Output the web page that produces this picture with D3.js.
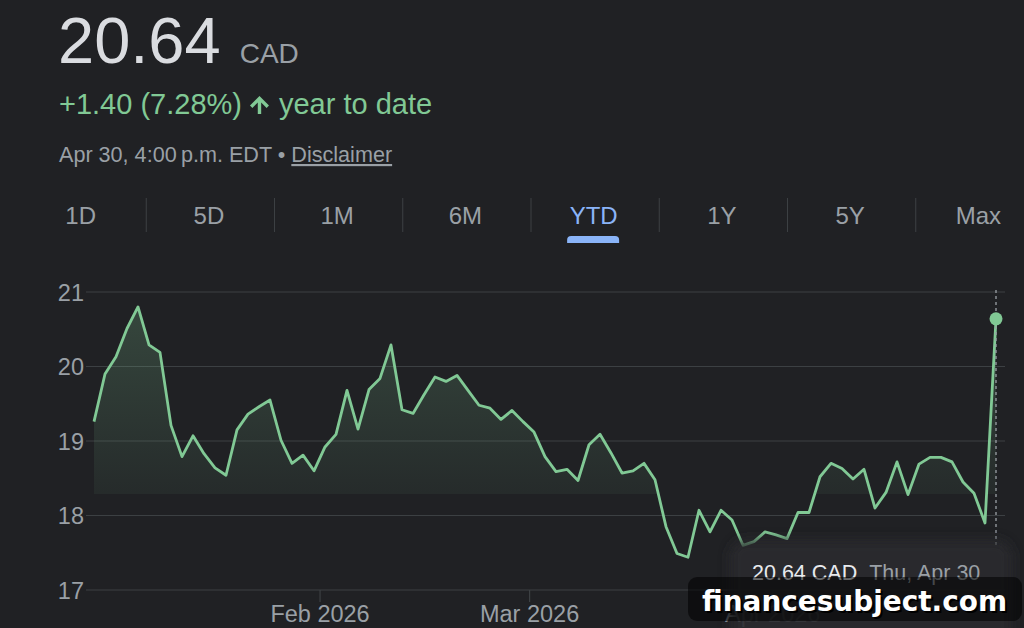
<!DOCTYPE html>
<html><head><meta charset="utf-8">
<script src="https://cdn.jsdelivr.net/npm/d3@7"></script>
<style>html,body{margin:0;padding:0;background:#202124;overflow:hidden}svg{display:block}</style>
</head><body><svg id="c" width="1024" height="628"></svg>
<script>
// ---- data ----
const prices = [19.26,19.90,20.13,20.51,20.80,20.29,20.19,19.21,18.79,19.07,18.83,18.64,18.54,19.15,19.36,19.46,19.55,19.01,18.70,18.81,18.60,18.92,19.09,19.68,19.16,19.69,19.84,20.29,19.42,19.37,19.62,19.86,19.80,19.88,19.68,19.48,19.44,19.29,19.41,19.26,19.12,18.79,18.59,18.62,18.47,18.95,19.09,18.84,18.57,18.60,18.70,18.48,17.85,17.49,17.44,18.07,17.78,18.07,17.94,17.60,17.65,17.78,17.74,17.69,18.04,18.04,18.52,18.70,18.63,18.49,18.62,18.10,18.31,18.72,18.28,18.69,18.78,18.78,18.72,18.45,18.30,17.90,20.64];
const tabs = ["1D","5D","1M","6M","YTD","1Y","5Y","Max"];
const activeTab = "YTD";
const yTicks = [17,18,19,20,21];
const xTickIndex = [20.55,39.6,61.7];
const xTickLabels = ["Feb 2026","Mar 2026","Apr 2026"];
const headerPrice = "20.64";
const currency = "CAD";
const changeText = "+1.40 (7.28%)";
const changeLabel = "year to date";
const asOfText = "Apr 30, 4:00\u202Fp.m. EDT \u2022 ";
const disclaimerText = "Disclaimer";
const tipValue = "20.64 CAD";
const tipDate = "Thu, Apr 30";
const watermark = "financesubject.com";

// ---- setup ----
const FONT = "'Liberation Sans', Arial, Helvetica, sans-serif";
const GREEN = "#81c995", GREY = "#9aa0a6", GRID = "#3c4043";
const svg = d3.select("#c");
svg.append("rect").attr("width",1024).attr("height",628).attr("fill","#202124");

const defs = svg.append("defs");
const grad = defs.append("linearGradient").attr("id","fillg")
  .attr("gradientUnits","userSpaceOnUse").attr("x1",0).attr("x2",0).attr("y1",300).attr("y2",494);
grad.append("stop").attr("offset",0).attr("stop-color",GREEN).attr("stop-opacity",0.23);
grad.append("stop").attr("offset",0.999).attr("stop-color",GREEN).attr("stop-opacity",0.06);
grad.append("stop").attr("offset",1).attr("stop-color",GREEN).attr("stop-opacity",0);
const blur = defs.append("filter").attr("id","blur").attr("x","-20%").attr("y","-20%").attr("width","140%").attr("height","140%");
blur.append("feGaussianBlur").attr("stdDeviation",6);

// ---- header ----
const hdr = svg.append("g").attr("font-family",FONT);
const priceT = hdr.append("text").attr("x",58).attr("y",63).attr("font-size",65).attr("fill","#dadce0").text(headerPrice);
const pw = priceT.node().getComputedTextLength();
hdr.append("text").attr("x",58+pw+19).attr("y",63).attr("font-size",28).attr("fill",GREY).text(currency);

const chT = hdr.append("text").attr("x",59).attr("y",114).attr("font-size",29).attr("fill",GREEN).text(changeText);
const cw = chT.node().getComputedTextLength();
const ax = 59 + cw + 8;
hdr.append("path").attr("fill",GREEN)
  .attr("d",`M${ax+9.5},${96} L${ax+19},${105.5} L${ax+16.6},${107.9} L${ax+11.2},${102.5} L${ax+11.2},${114} L${ax+7.8},${114} L${ax+7.8},${102.5} L${ax+2.4},${107.9} L${ax},${105.5} Z`);
hdr.append("text").attr("x",ax+29).attr("y",114).attr("font-size",29).attr("fill",GREEN).text(changeLabel);

const asT = hdr.append("text").attr("x",59).attr("y",162).attr("font-size",21.6).attr("fill",GREY);
asT.append("tspan").text(asOfText);
asT.append("tspan").attr("text-decoration","underline").text(disclaimerText);

// ---- tabs ----
const tabX = d3.scaleBand().domain(tabs).range([18,1044]);
const tg = svg.append("g").attr("font-family",FONT);
tg.selectAll("line.sep").data(tabs.slice(1)).join("line")
  .attr("x1",d=>tabX(d)).attr("x2",d=>tabX(d)).attr("y1",198).attr("y2",232)
  .attr("stroke",GRID).attr("stroke-width",1);
tg.selectAll("text.tab").data(tabs).join("text")
  .attr("x",d=>tabX(d)+tabX.bandwidth()/2 - 1.5).attr("y",224)
  .attr("text-anchor","middle").attr("font-size",24)
  .attr("fill",d=>d===activeTab?"#8ab4f8":GREY).text(d=>d);
const acx = tabX(activeTab)+tabX.bandwidth()/2 - 2;
tg.append("path").attr("fill","#8ab4f8")
  .attr("d",`M${acx-26},243 L${acx-26},240 Q${acx-26},236 ${acx-22},236 L${acx+22},236 Q${acx+26},236 ${acx+26},240 L${acx+26},243 Z`);

// ---- chart ----
const x = d3.scaleLinear().domain([0, prices.length-1]).range([94, 996]);
const y = d3.scaleLinear().domain([17,21]).range([590,292]);

const grid = svg.append("g");
grid.selectAll("line").data(yTicks).join("line")
  .attr("x1",86).attr("x2",1005).attr("y1",d=>y(d)).attr("y2",d=>y(d))
  .attr("stroke",GRID).attr("stroke-width",1.2);
svg.append("g").selectAll("text").data(yTicks).join("text")
  .attr("x",84).attr("y",d=>y(d)+8.5).attr("text-anchor","end")
  .attr("font-family",FONT).attr("font-size",23.5).attr("fill",GREY).text(d=>d);

const xt = svg.append("g");
xt.selectAll("line").data(xTickIndex).join("line")
  .attr("x1",d=>x(d)).attr("x2",d=>x(d)).attr("y1",y(17)).attr("y2",y(17)+12)
  .attr("stroke",GRID).attr("stroke-width",1.2);
xt.selectAll("text").data(xTickIndex).join("text")
  .attr("x",d=>x(d)).attr("y",622).attr("text-anchor","middle")
  .attr("font-family",FONT).attr("font-size",23.5).attr("fill",GREY)
  .text((d,i)=>xTickLabels[i]);

const area = d3.area().x((d,i)=>x(i)).y0(y(17)).y1(d=>y(d));
svg.append("path").datum(prices).attr("d",area).attr("fill","url(#fillg)");
const line = d3.line().x((d,i)=>x(i)).y(d=>y(d));
svg.append("path").datum(prices).attr("d",line).attr("fill","none")
  .attr("stroke",GREEN).attr("stroke-width",2.8).attr("stroke-linejoin","round");

const last = prices.length-1;
svg.append("line").attr("x1",x(last)).attr("x2",x(last)).attr("y1",290).attr("y2",548)
  .attr("stroke",GREY).attr("stroke-width",1.3).attr("stroke-dasharray","3,3");
svg.append("circle").attr("cx",x(last)).attr("cy",y(prices[last])).attr("r",6.5).attr("fill",GREEN);

// ---- tooltip ----
svg.append("rect").attr("x",730).attr("y",540).attr("width",282).attr("height",110).attr("rx",16)
  .attr("fill","#2a2b2f").attr("opacity",0.9).attr("filter","url(#blur)");
const tip = svg.append("text").attr("x",752).attr("y",580).attr("font-family",FONT).attr("font-size",21.5);
tip.append("tspan").attr("fill","#e8eaed").text(tipValue);
tip.append("tspan").attr("dx",12).attr("fill",GREY).text(tipDate);

// ---- watermark ----
svg.append("rect").attr("x",688).attr("y",577).attr("width",334).attr("height",44).attr("rx",9)
  .attr("fill","#000").attr("opacity",0.55);
svg.append("text").attr("x",704).attr("y",613).attr("font-family","'DejaVu Sans', sans-serif")
  .attr("font-weight","bold").attr("font-size",29).attr("textLength",305).attr("lengthAdjust","spacingAndGlyphs")
  .attr("fill","#000").text(watermark);
svg.append("text").attr("x",702).attr("y",611).attr("font-family","'DejaVu Sans', sans-serif")
  .attr("font-weight","bold").attr("font-size",29).attr("textLength",305).attr("lengthAdjust","spacingAndGlyphs")
  .attr("fill","#fff").text(watermark);
</script></body></html>
